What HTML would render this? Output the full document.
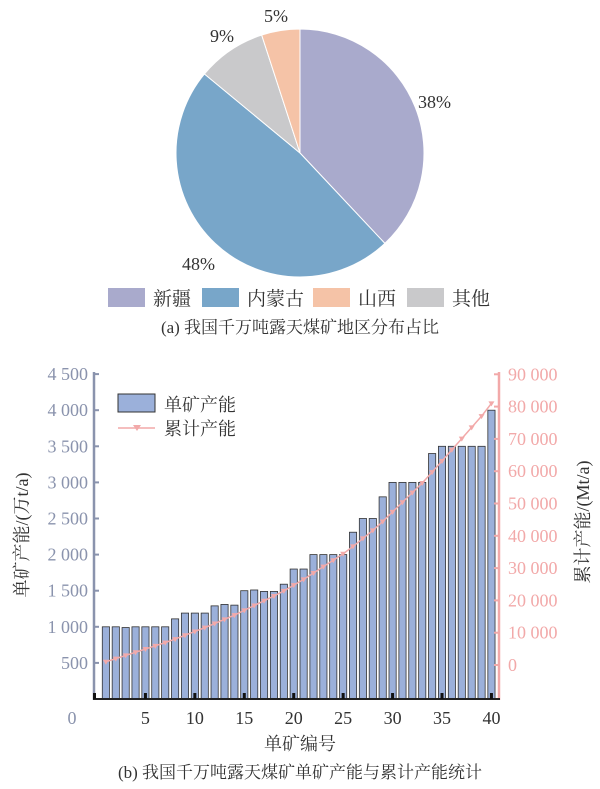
<!DOCTYPE html>
<html><head><meta charset="utf-8"><style>
html,body{margin:0;padding:0;background:#fff}
svg{display:block;font-family:"Liberation Serif","Noto Serif CJK SC",serif}
</style></head><body>
<svg id="s" width="600" height="789" viewBox="0 0 600 789">
<g id="pie"></g>
<g font-size="18" fill="#333">
<text x="418" y="108">38%</text>
<text x="182" y="270">48%</text>
<text x="210" y="42">9%</text>
<text x="264" y="22">5%</text>
</g>
<rect x="108" y="288" width="37" height="19" fill="#a9aacc"/>
<rect x="202" y="288" width="37" height="19" fill="#78a6c9"/>
<rect x="313" y="288" width="37" height="19" fill="#f5c3a7"/>
<rect x="407" y="288" width="37" height="19" fill="#c9c9cb"/>
<g font-size="19" fill="#333">
<text x="153" y="305">新疆</text>
<text x="247" y="305">内蒙古</text>
<text x="358" y="305">山西</text>
<text x="452" y="305">其他</text>
</g>
<text x="300" y="333" font-size="17" text-anchor="middle" fill="#333">(a) 我国千万吨露天煤矿地区分布占比</text>
<g id="chart"></g>
<g font-size="18" fill="#8a93ad" text-anchor="end" id="ly"></g>
<g font-size="18" fill="#f2a9a9" id="ry"></g>
<g font-size="18" fill="#333" text-anchor="middle" id="xl"></g>
<text x="72" y="724" font-size="18" fill="#8a93ad" text-anchor="middle">0</text>
<text x="300" y="750" font-size="18" fill="#333" text-anchor="middle">单矿编号</text>
<text transform="translate(28,535) rotate(-90)" font-size="18" fill="#333" text-anchor="middle">单矿产能/(万t/a)</text>
<text transform="translate(589,522) rotate(-90)" font-size="18" fill="#333" text-anchor="middle">累计产能/(Mt/a)</text>
<rect x="118" y="394" width="37" height="18" fill="#9bb0da" stroke="#333" stroke-width="1"/>
<text x="164" y="411" font-size="18" fill="#333">单矿产能</text>
<line x1="118" y1="428" x2="155" y2="428" stroke="#f2a9a9" stroke-width="1.5"/>
<path d="M133 425 L141 425 L137 431Z" fill="#f2a9a9"/>
<text x="164" y="435" font-size="18" fill="#333">累计产能</text>
<text x="300" y="778" font-size="17" text-anchor="middle" fill="#333">(b) 我国千万吨露天煤矿单矿产能与累计产能统计</text>
</svg>
<script>
var NS="http://www.w3.org/2000/svg";
function el(p,t,a,txt){var e=document.createElementNS(NS,t);for(var k in a)e.setAttribute(k,a[k]);if(txt!=null)e.textContent=txt;document.getElementById(p).appendChild(e);return e;}
var cx=300,cy=153,r=124,sl=[[0.38,"#a9aacc"],[0.48,"#78a6c9"],[0.09,"#c9c9cb"],[0.05,"#f5c3a7"]],a0=0;
sl.forEach(function(s){var a1=a0+s[0]*2*Math.PI;
var x0=cx+r*Math.sin(a0),y0=cy-r*Math.cos(a0),x1=cx+r*Math.sin(a1),y1=cy-r*Math.cos(a1);
el("pie","path",{d:"M"+cx+" "+cy+"L"+x0+" "+y0+"A"+r+" "+r+" 0 "+(s[0]>0.5?1:0)+" 1 "+x1+" "+y1+"Z",fill:s[1],stroke:"#fff","stroke-width":1});a0=a1;});
var v=[1000,1000,990,1000,1000,1000,1000,1110,1190,1190,1190,1290,1310,1300,1500,1510,1490,1490,1590,1800,1800,2000,2000,2000,2000,2310,2500,2500,2800,3000,3000,3000,3000,3400,3500,3500,3500,3500,3500,4000];
function X(i){return 96+9.886*i;}
function YL(val){return 699-val/500*36.1;}
function YR(val){return 665-val/10000*32.3;}
v.forEach(function(val,k){var i=k+1;el("chart","rect",{x:X(i)-3.6,y:YL(val),width:7.2,height:699-YL(val),fill:"#9bb0da",stroke:"#333","stroke-width":0.8});});
var tot=v.reduce(function(a,b){return a+b},0);
var cum=0,pts=[];v.forEach(function(val,k){cum+=val;pts.push([X(k+1),YR(cum*81000/tot)]);});
el("chart","polyline",{points:pts.map(function(p){return p.join(",")}).join(" "),fill:"none",stroke:"#f2a9a9","stroke-width":1.5});
pts.forEach(function(p){el("chart","path",{d:"M"+(p[0]-3)+" "+(p[1]-2)+"L"+(p[0]+3)+" "+(p[1]-2)+"L"+p[0]+" "+(p[1]+3)+"Z",fill:"#f2a9a9"});});
el("chart","line",{x1:94,y1:372,x2:94,y2:700,stroke:"#8a93ad","stroke-width":2.5});
el("chart","line",{x1:499,y1:372,x2:499,y2:700,stroke:"#f2a9a9","stroke-width":2.5});
el("chart","line",{x1:93,y1:699,x2:500,y2:699,stroke:"#222","stroke-width":2});
for(var t=500;t<=4500;t+=500){var y=YL(t);el("chart","line",{x1:94,y1:y,x2:99,y2:y,stroke:"#8a93ad","stroke-width":2});
el("ly","text",{x:88,y:y+6},t>=1000?Math.floor(t/1000)+" "+String(t%1000).padStart(3,"0"):String(t));}
for(var t=0;t<=90000;t+=10000){var y=YR(t);el("chart","line",{x1:494,y1:y,x2:499,y2:y,stroke:"#f2a9a9","stroke-width":2});
el("ry","text",{x:508,y:y+6},t==0?"0":(t/1000)+" 000");}
for(var i=5;i<=40;i+=5){el("xl","text",{x:X(i),y:724},String(i));el("chart","rect",{x:X(i)-1.5,y:693,width:3,height:6,fill:"#111"});}
el("chart","rect",{x:93,y:693,width:3,height:6,fill:"#111"});
</script>
</body></html>
